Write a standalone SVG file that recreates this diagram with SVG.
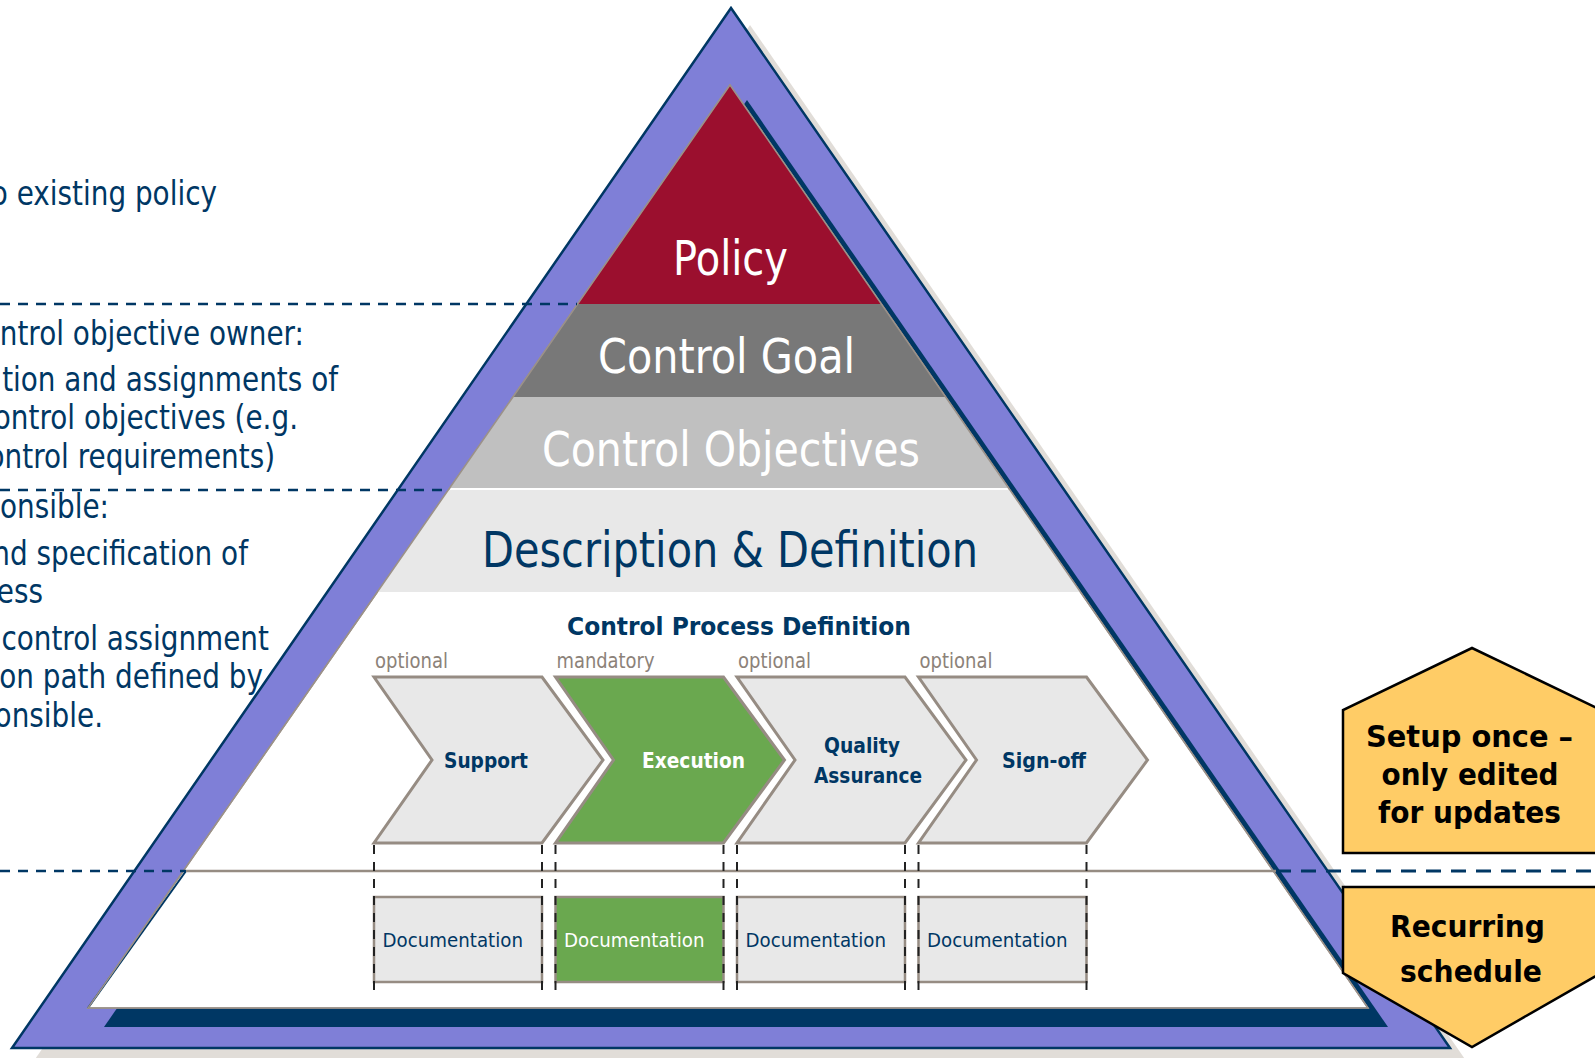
<svg xmlns="http://www.w3.org/2000/svg" width="1595" height="1058" viewBox="0 0 1595 1058">
<style>
.t{font-family:"DejaVu Sans","Verdana",sans-serif}
.b{font-weight:bold}
.navy{fill:#003764}
.white{fill:#ffffff}
.big{font-size:48px}
.chev{fill:#e8e8e8;stroke:#968c83;stroke-width:3;stroke-linejoin:miter}
.chev.on{fill:#6aa84f}
.doc{fill:#e8e8e8;stroke:#968c83;stroke-width:2.5}
.doc.on{fill:#6aa84f}
.lbl{font-size:21px;fill:#8c8279}
.cl{font-size:21px;font-weight:bold}
.dt{font-size:20px}
.sep{stroke:#003764;stroke-width:2.5;stroke-dasharray:10 8;fill:none}
.vd{stroke:#222;stroke-width:2;stroke-dasharray:9 8;fill:none}
.hex{fill:#ffcc66;stroke:#000;stroke-width:2.5}
.ht{font-size:30px;font-weight:bold;fill:#000}
.note{font-size:34px;fill:#003764}
</style>
<defs>
<clipPath id="inner"><polygon points="730,85 88,1008 1368,1008"/></clipPath>
</defs>
<rect width="1595" height="1058" fill="#ffffff"/>

<g id="pyramid">
<polygon points="750,25 31,1065 1469,1065" fill="#e1ddd8"/>
<polygon points="731,8 12,1048 1450,1048" fill="#7f7fd7" stroke="#003764" stroke-width="2.5" stroke-linejoin="miter"/>
<polygon points="747,100 104,1027 1388,1027" fill="#003764"/>
<polygon points="730,85 88,1008 1368,1008" fill="#ffffff" stroke="#9b9189" stroke-width="1.5"/>
<line x1="186" y1="871" x2="88" y2="1008" stroke="#003764" stroke-width="2"/>
</g>

<g id="band-policy" clip-path="url(#inner)">
<rect x="0" y="80" width="1595" height="224" fill="#9b0f2e"/>
<text class="t white big" x="730.5" y="275" text-anchor="middle" textLength="115" lengthAdjust="spacingAndGlyphs">Policy</text>
</g>
<g id="band-control-goal" clip-path="url(#inner)">
<rect x="0" y="304" width="1595" height="93" fill="#787878"/>
<text class="t white big" x="726.5" y="373" text-anchor="middle" textLength="257" lengthAdjust="spacingAndGlyphs">Control Goal</text>
</g>
<g id="band-control-objectives" clip-path="url(#inner)">
<rect x="0" y="397" width="1595" height="91" fill="#c0c0c0"/>
<text class="t white big" x="731" y="466" text-anchor="middle" textLength="378" lengthAdjust="spacingAndGlyphs">Control Objectives</text>
</g>
<g id="band-description" clip-path="url(#inner)">
<rect x="0" y="490" width="1595" height="102" fill="#e8e8e8"/>
<text class="t navy" font-size="50" x="730" y="567" text-anchor="middle" textLength="496" lengthAdjust="spacingAndGlyphs">Description &amp; Definition</text>
</g>
<polygon points="730,85 88,1008 1368,1008" fill="none" stroke="#9b9189" stroke-width="1.5"/>
<line x1="186" y1="871" x2="1276" y2="871" stroke="#968c83" stroke-width="2.5"/>

<g id="process-title">
<text class="t navy b" font-size="24" x="739" y="635" text-anchor="middle" textLength="344" lengthAdjust="spacingAndGlyphs">Control Process Definition</text>
</g>

<g id="step-support">
<text class="t lbl" x="375" y="668" textLength="73" lengthAdjust="spacingAndGlyphs">optional</text>
<polygon class="chev" points="374,677 542,677 603,760 542,843 374,843 432,760"/>
<text class="t cl navy" x="486" y="768" text-anchor="middle" textLength="84" lengthAdjust="spacingAndGlyphs">Support</text>
</g>
<g id="step-execution">
<text class="t lbl" x="556.5" y="668" textLength="98" lengthAdjust="spacingAndGlyphs">mandatory</text>
<polygon class="chev on" points="555.5,677 723.5,677 784.5,760 723.5,843 555.5,843 613.5,760"/>
<text class="t cl white" x="693.5" y="768" text-anchor="middle" textLength="103" lengthAdjust="spacingAndGlyphs">Execution</text>
</g>
<g id="step-quality">
<text class="t lbl" x="738" y="668" textLength="73" lengthAdjust="spacingAndGlyphs">optional</text>
<polygon class="chev" points="737,677 905,677 966,760 905,843 737,843 795,760"/>
<text class="t cl navy" x="862" y="753" text-anchor="middle" textLength="76" lengthAdjust="spacingAndGlyphs">Quality</text>
<text class="t cl navy" x="868" y="783" text-anchor="middle" textLength="108" lengthAdjust="spacingAndGlyphs">Assurance</text>
</g>
<g id="step-signoff">
<text class="t lbl" x="919.5" y="668" textLength="73" lengthAdjust="spacingAndGlyphs">optional</text>
<polygon class="chev" points="918.5,677 1086.5,677 1147.5,760 1086.5,843 918.5,843 976.5,760"/>
<text class="t cl navy" x="1044" y="768" text-anchor="middle" textLength="84" lengthAdjust="spacingAndGlyphs">Sign-off</text>
</g>

<g id="doc-support">
<rect class="doc" x="374" y="897" width="168" height="85"/>
<text class="t dt navy" x="382.5" y="947" textLength="140.5" lengthAdjust="spacingAndGlyphs">Documentation</text>
</g>
<g id="doc-execution">
<rect class="doc on" x="555.5" y="897" width="168" height="85"/>
<text class="t dt white" x="564" y="947" textLength="140.5" lengthAdjust="spacingAndGlyphs">Documentation</text>
</g>
<g id="doc-quality">
<rect class="doc" x="737" y="897" width="168" height="85"/>
<text class="t dt navy" x="745.5" y="947" textLength="140.5" lengthAdjust="spacingAndGlyphs">Documentation</text>
</g>
<g id="doc-signoff">
<rect class="doc" x="918.5" y="897" width="168" height="85"/>
<text class="t dt navy" x="927" y="947" textLength="140.5" lengthAdjust="spacingAndGlyphs">Documentation</text>
</g>

<g id="connectors">
<line class="sep" x1="0" y1="304" x2="577" y2="304"/>
<line class="sep" x1="0" y1="490" x2="449" y2="490"/>
<line class="sep" x1="0" y1="871" x2="186" y2="871"/>
<line class="sep" x1="1276" y1="871" x2="1595" y2="871" style="stroke-width:3;stroke-dasharray:15 10"/>
<line class="vd" x1="374" y1="845" x2="374" y2="996"/>
<line class="vd" x1="542" y1="845" x2="542" y2="996"/>
<line class="vd" x1="555.5" y1="845" x2="555.5" y2="996"/>
<line class="vd" x1="723.5" y1="845" x2="723.5" y2="996"/>
<line class="vd" x1="737" y1="845" x2="737" y2="996"/>
<line class="vd" x1="905" y1="845" x2="905" y2="996"/>
<line class="vd" x1="918.5" y1="845" x2="918.5" y2="996"/>
<line class="vd" x1="1086.5" y1="845" x2="1086.5" y2="996"/>
</g>

<g id="left-notes" transform="scale(0.82,1)">
<text class="t note" x="264.6" y="205" text-anchor="end">o existing policy</text>
<text class="t note" x="370.7" y="345" text-anchor="end">ntrol objective owner:</text>
<text class="t note" x="412.2" y="391" text-anchor="end">tion and assignments of</text>
<text class="t note" x="363.4" y="429" text-anchor="end">ontrol objectives (e.g.</text>
<text class="t note" x="335.4" y="468" text-anchor="end">ontrol requirements)</text>
<text class="t note" x="132.9" y="518" text-anchor="end">onsible:</text>
<text class="t note" x="302.4" y="565" text-anchor="end">nd specification of</text>
<text class="t note" x="52.4" y="603" text-anchor="end">ess</text>
<text class="t note" x="328" y="650" text-anchor="end">control assignment</text>
<text class="t note" x="320.7" y="688" text-anchor="end">on path defined by</text>
<text class="t note" x="125.6" y="727" text-anchor="end">onsible.</text>
</g>

<g id="hex-setup">
<polygon class="hex" points="1343,853 1343,710 1472,648 1601,710 1601,853"/>
<text class="t ht" x="1469.5" y="747" text-anchor="middle" textLength="207" lengthAdjust="spacingAndGlyphs">Setup once –</text>
<text class="t ht" x="1470" y="785" text-anchor="middle" textLength="177" lengthAdjust="spacingAndGlyphs">only edited</text>
<text class="t ht" x="1469.5" y="823" text-anchor="middle" textLength="183" lengthAdjust="spacingAndGlyphs">for updates</text>
</g>
<g id="hex-recurring">
<polygon class="hex" points="1343,887 1601,887 1601,973 1472,1047 1343,973"/>
<text class="t ht" x="1467.5" y="937" text-anchor="middle" textLength="155" lengthAdjust="spacingAndGlyphs">Recurring</text>
<text class="t ht" x="1471" y="982" text-anchor="middle" textLength="142" lengthAdjust="spacingAndGlyphs">schedule</text>
</g>
</svg>
